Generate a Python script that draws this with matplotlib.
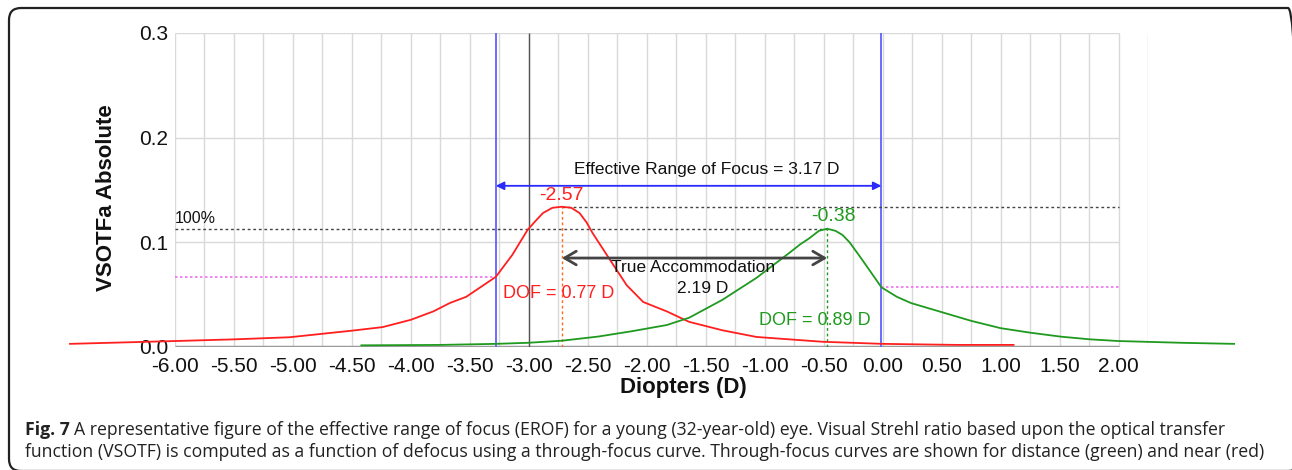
import numpy as np
import matplotlib
matplotlib.use("Agg")
import matplotlib.pyplot as plt
from matplotlib import font_manager
from matplotlib.patches import FancyBboxPatch
from matplotlib.transforms import IdentityTransform

# through-focus curves (diopters, VSOTFa)
near_x = [-6.89, -6.00, -5.50, -5.03, -4.50, -4.24, -4.00, -3.81, -3.67, -3.53, -3.28,
          -3.14, -3.01, -2.93, -2.88, -2.80, -2.72, -2.64, -2.57, -2.51, -2.46, -2.31,
          -2.17, -2.03, -1.83, -1.64, -1.36, -1.07, -0.51, 0.00, 0.63, 1.11]
near_y = [0.003, 0.0057, 0.0073, 0.0093, 0.0156, 0.019, 0.026, 0.034, 0.042, 0.048, 0.067,
          0.088, 0.112, 0.122, 0.128, 0.133, 0.134, 0.133, 0.128, 0.119, 0.109, 0.083,
          0.059, 0.043, 0.034, 0.024, 0.016, 0.0096, 0.005, 0.003, 0.002, 0.002]

dist_x = [-4.42, -3.75, -3.28, -3.01, -2.72, -2.41, -2.13, -1.83, -1.64, -1.36, -1.07,
          -0.79, -0.70, -0.62, -0.54, -0.47, -0.40, -0.34, -0.28, -0.19, -0.01, 0.12,
          0.24, 0.48, 0.75, 1.00, 1.25, 1.51, 1.76, 2.00, 2.54, 2.98]
dist_y = [0.0016, 0.002, 0.003, 0.004, 0.006, 0.010, 0.015, 0.021, 0.028, 0.045, 0.066,
          0.090, 0.098, 0.104, 0.111, 0.113, 0.111, 0.107, 0.100, 0.086, 0.057, 0.048,
          0.042, 0.034, 0.025, 0.018, 0.0137, 0.0099, 0.0073, 0.0057, 0.004, 0.003]

near_peak = (-2.72, 0.134)
dist_peak = (-0.47, 0.113)
erof_lo, erof_hi = -3.28, -0.01
half_near, half_dist = 0.067, 0.057

xticks = np.arange(-6.0, 2.01, 0.5)
yticks = [0.0, 0.1, 0.2, 0.3]

W, H = 1292, 470
RED = "#ff1f1f"
GREEN = "#1f9a1f"
BLUE = "#6b6bff"

plt.rcParams["font.family"] = ["Liberation Sans", "DejaVu Sans"]

fig = plt.figure(figsize=(W / 100, H / 100), dpi=100)
ax = fig.add_axes([175 / W, (H - 347) / H, (1148 - 175) / W, (347 - 33) / H])
ax.set_xlim(-6.0, 2.25)
ax.set_ylim(0, 0.3)
for s in ax.spines.values():
    s.set_visible(False)

# grid
ax.vlines(np.arange(-6.0, 2.26, 0.25), 0, 0.3, color="#d9d9d9", lw=1.0, zorder=0)
ax.hlines([0.1, 0.2, 0.3], -6.0, 2.0, color="#d9d9d9", lw=1.0, zorder=0)
ax.hlines(0, -6.0, 2.0, color="#9a9a9a", lw=2.5, zorder=1)

ax.set_xticks(xticks)
ax.set_xticklabels(["%.2f" % v for v in xticks])
ax.set_yticks(yticks)
ax.set_yticklabels(["%.1f" % v for v in yticks])
ax.tick_params(axis="both", length=0, labelsize=15, colors="#111111")
ax.tick_params(axis="x", pad=7)
ax.tick_params(axis="y", pad=5)

# reference lines
ax.vlines([erof_lo, erof_hi], 0, 0.3, color=BLUE, lw=1.4, zorder=2)
ax.vlines(-3.0, 0, 0.3, color="#555555", lw=1.0, zorder=2)
ax.hlines(near_peak[1], near_peak[0], 2.0, color="#444444", lw=1.0, ls=(0, (2, 2)), zorder=2)
ax.hlines(dist_peak[1], -6.0, dist_peak[0], color="#444444", lw=1.0, ls=(0, (2, 2)), zorder=2)
ax.hlines(half_near, -6.0, erof_lo, color="#f070f0", lw=1.2, ls=(0, (1.5, 1.5)), zorder=2)
ax.hlines(half_dist, erof_hi, 2.0, color="#f070f0", lw=1.2, ls=(0, (1.5, 1.5)), zorder=2)
ax.vlines(near_peak[0], 0, near_peak[1], color="#ff6a1a", lw=1.0, ls=(0, (2, 2)), zorder=2)
ax.vlines(dist_peak[0], 0, dist_peak[1], color=GREEN, lw=1.0, ls=(0, (2, 2)), zorder=2)

# curves
ax.plot(near_x, near_y, color=RED, lw=1.3, clip_on=False, zorder=3)
ax.plot(dist_x, dist_y, color=GREEN, lw=1.3, clip_on=False, zorder=3)

# arrows
ax.annotate("", xy=(erof_hi, 0.154), xytext=(erof_lo, 0.154),
            arrowprops=dict(arrowstyle="<|-|>", color="#2a2aff", lw=1.3,
                            mutation_scale=12, shrinkA=0, shrinkB=0), zorder=4)
ax.annotate("", xy=(dist_peak[0], 0.085), xytext=(near_peak[0], 0.085),
            arrowprops=dict(arrowstyle="<->,head_length=0.6,head_width=0.35", color="#444444",
                            lw=2.0, mutation_scale=14, shrinkA=0, shrinkB=0), zorder=4)

# annotations
ax.text(-1.49, 0.162, "Effective Range of Focus = 3.17 D", ha="center", va="bottom",
        fontsize=12.5, color="#111111")
ax.text(near_peak[0], 0.137, "-2.57", ha="center", va="bottom", fontsize=14, color=RED)
ax.text(-0.42, 0.117, "-0.38", ha="center", va="bottom", fontsize=14, color=GREEN)
ax.text(-6.0, 0.116, "100%", ha="left", va="bottom", fontsize=11.5, color="#111111")
ax.text(-1.61, 0.076, "True Accommodation", ha="center", va="center", fontsize=12.5,
        color="#111111")
ax.text(-1.53, 0.056, "2.19 D", ha="center", va="center", fontsize=12.5, color="#111111")
ax.text(-3.22, 0.051, "DOF = 0.77 D", ha="left", va="center", fontsize=13, color=RED)
ax.text(-1.05, 0.025, "DOF = 0.89 D", ha="left", va="center", fontsize=13, color=GREEN)

# axis titles
fig.text(107 / W, 1 - 198 / H, "VSOTFa Absolute", rotation=90, ha="center", va="center",
         fontsize=16, fontweight="bold", color="#111111")
fig.text(683 / W, 1 - 387 / H, "Diopters (D)", ha="center", va="center",
         fontsize=16, fontweight="bold", color="#111111")

# frame around figure + caption
box = FancyBboxPatch((9, -1), 1291, 463, boxstyle="round,pad=0,rounding_size=12",
                     transform=IdentityTransform(), fill=False, ec="#222222", lw=1.6)
fig.patches.append(box)

cap_font = "Open Sans"
try:
    font_manager.findfont(font_manager.FontProperties(family="Liberation Sans Narrow"),
                          fallback_to_default=False)
    cap_font = "Liberation Sans Narrow"
except Exception:
    pass

line1 = ("A representative figure of the effective range of focus (EROF) for a young "
         "(32-year-old) eye. Visual Strehl ratio based upon the optical transfer")
line2 = ("function (VSOTF) is computed as a function of defocus using a through-focus curve. "
         "Through-focus curves are shown for distance (green) and near (red)")

renderer = fig.canvas.get_renderer()
x0 = 25
t1 = fig.text(x0 / W, 1 - 430 / H, "Fig. 7", fontweight="bold", fontsize=10,
              family=cap_font, va="center", color="#222222")
t2 = fig.text(0, 1 - 430 / H, line1, fontsize=10, family=cap_font, va="center",
              color="#222222")
w1 = t1.get_window_extent(renderer).width
w2 = t2.get_window_extent(renderer).width
size = 10 * (1228 - x0) / (w1 + w2 + 3)
t1.set_fontsize(size)
t2.set_fontsize(size)
w1 = t1.get_window_extent(renderer).width
t2.set_x((x0 + w1 + 0.3 * size) / W)
fig.text(x0 / W, 1 - 452 / H, line2, fontsize=size, family=cap_font, va="center",
         color="#222222")

fig.savefig("out.png", dpi=100)
